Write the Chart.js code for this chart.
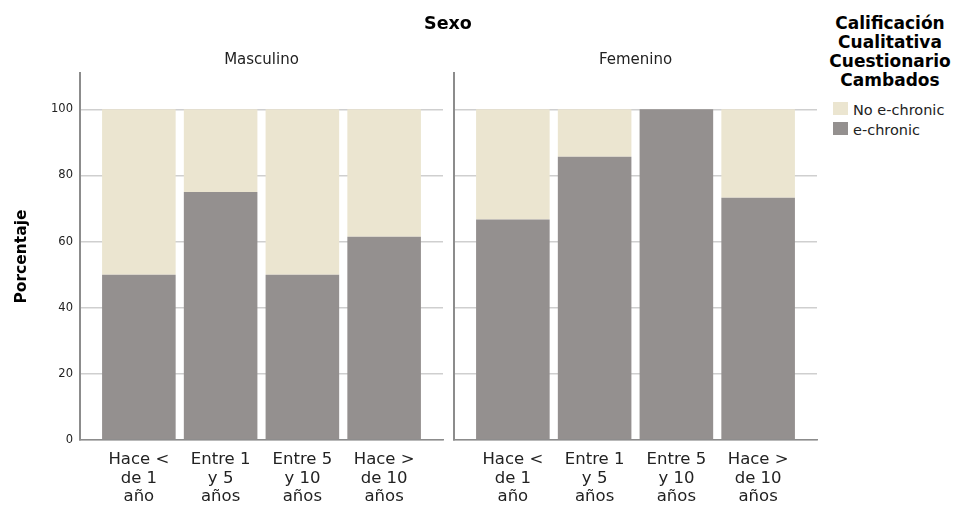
<!DOCTYPE html>
<html>
<head>
<meta charset="utf-8">
<script src="https://cdn.jsdelivr.net/npm/chart.js@4.4.1/dist/chart.umd.min.js"></script>
<style>
  body { margin: 0; background: #fff; font-family: "DejaVu Sans", sans-serif; }
  #page { position: relative; width: 956px; height: 506px; overflow: hidden; }
  .wrap { position: absolute; top: 0; height: 506px; }
  #wrap-m { left: 0; width: 450px; }
  #wrap-f { left: 444px; width: 380px; }
  #sexo { position: absolute; left: 348px; width: 200px; top: 13px; text-align: center;
          font-weight: bold; font-size: 17.5px; line-height: 20px; color: #000; }
  .panel-title { position: absolute; top: 50px; width: 363px; text-align: center;
                 font-size: 15px; line-height: 18px; color: #222; }
  #legend-title { position: absolute; left: 825px; width: 130px; top: 14px; text-align: center;
                  font-weight: bold; font-size: 17px; line-height: 19px; color: #000; white-space: nowrap; }
  .leg-row { position: absolute; left: 833px; height: 20px; line-height: 20px; font-size: 14.5px;
             color: #222; white-space: nowrap; }
  .leg-box { position: absolute; left: 0; top: 2px; width: 15px; height: 13px; }
  .leg-text { position: absolute; left: 20px; top: 0; }
</style>
</head>
<body>
<div id="page">
  <div class="wrap" id="wrap-m"><canvas id="chart-m"></canvas></div>
  <div class="wrap" id="wrap-f"><canvas id="chart-f"></canvas></div>
  <div id="sexo">Sexo</div>
  <div class="panel-title" id="title-m" style="left:80px"></div>
  <div class="panel-title" id="title-f" style="left:454px"></div>
  <div id="legend-title">Calificación<br>Cualitativa<br>Cuestionario<br>Cambados</div>
  <div id="legend-items"></div>
</div>
<script>
// --- Data ---
const categories = [
  ['Hace <', 'de 1', 'año'],
  ['Entre 1', 'y 5', 'años'],
  ['Entre 5', 'y 10', 'años'],
  ['Hace >', 'de 10', 'años']
];
const panels = ['Masculino', 'Femenino'];
const seriesNames = ['e-chronic', 'No e-chronic'];
const seriesColors = ['#94908f', '#ebe5d0'];

const eChronicMasc = [50, 75, 50, 61.5];
const noEChronicMasc = [50, 25, 50, 38.5];
const eChronicFem = [66.7, 85.7, 100, 73.3];
const noEChronicFem = [33.3, 14.3, 0, 26.7];

const yTicks = [0, 20, 40, 60, 80, 100];
const yMax = 111;

// --- Text bits ---
document.getElementById('title-m').textContent = panels[0];
document.getElementById('title-f').textContent = panels[1];

const legendItems = document.getElementById('legend-items');
[1, 0].forEach((s, i) => {
  const row = document.createElement('div');
  row.className = 'leg-row';
  row.style.top = (100 + i * 20) + 'px';
  row.innerHTML = `<span class="leg-box" style="background:${seriesColors[s]}"></span><span class="leg-text">${seriesNames[s]}</span>`;
  legendItems.appendChild(row);
});

// --- Charts ---
Chart.defaults.font.family = "'DejaVu Sans', sans-serif";
Chart.defaults.color = '#222';

function toPoints(values) {
  return values.map((v, i) => ({ x: i + 1, y: v }));
}

function makePanel(id, eVals, nVals, showY) {
  const ctx = document.getElementById(id).getContext('2d');
  return new Chart(ctx, {
    type: 'bar',
    data: {
      datasets: [
        { label: seriesNames[0], data: toPoints(eVals), backgroundColor: seriesColors[0], borderWidth: 0 },
        { label: seriesNames[1], data: toPoints(nVals), backgroundColor: seriesColors[1], borderWidth: 0 }
      ]
    },
    options: {
      responsive: true,
      maintainAspectRatio: false,
      animation: false,
      events: [],
      categoryPercentage: 0.9,
      barPercentage: 1.0,
      layout: { padding: { top: 73, right: 7, bottom: 0, left: 0 } },
      plugins: { legend: { display: false }, tooltip: { enabled: false } },
      scales: {
        x: {
          type: 'linear',
          stacked: true,
          offset: false,
          min: 0.28,
          max: 4.72,
          afterBuildTicks: (s) => { s.ticks = categories.map((c, i) => ({ value: i + 1 })); },
          afterFit: (s) => { s.height = 66; },
          grid: { display: false, drawTicks: false },
          border: { display: true, color: '#8c8c8c', width: 1.5 },
          ticks: {
            autoSkip: false,
            maxRotation: 0,
            padding: 11,
            color: '#222',
            font: { size: 16.5, lineHeight: 1.11 },
            callback: (v) => categories[v - 1]
          }
        },
        y: {
          stacked: true,
          min: 0,
          max: yMax,
          afterBuildTicks: (s) => { s.ticks = yTicks.map(v => ({ value: v })); },
          afterFit: (s) => { s.width = showY ? 80 : 10; },
          grid: { color: '#cfcfcf', lineWidth: 1.5, drawTicks: false },
          border: { display: true, color: '#8c8c8c', width: 2 },
          ticks: { display: showY, padding: 7, color: '#222', font: { size: 11.5 } },
          title: {
            display: showY,
            text: 'Porcentaje',
            color: '#000',
            font: { size: 15.5, weight: 'bold' },
            padding: { top: 13, bottom: 4 }
          }
        }
      }
    }
  });
}

makePanel('chart-m', eChronicMasc, noEChronicMasc, true);
makePanel('chart-f', eChronicFem, noEChronicFem, false);
</script>
</body>
</html>
